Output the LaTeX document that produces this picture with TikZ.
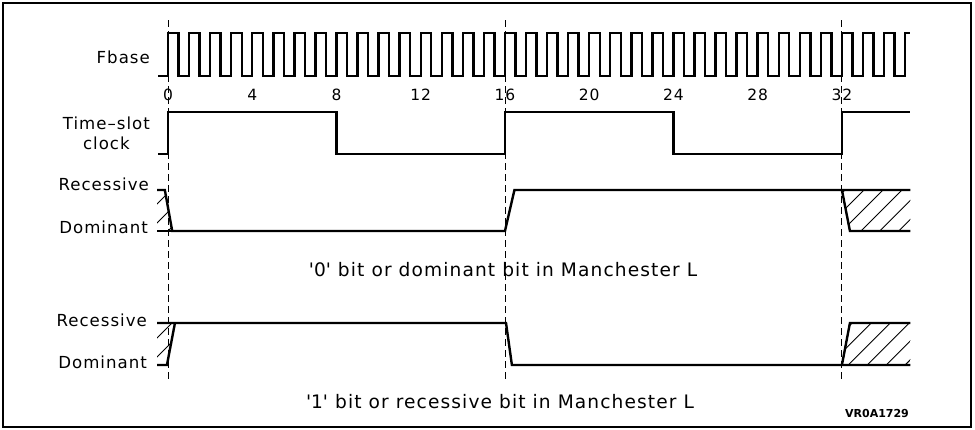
\documentclass[tikz,border=0pt]{standalone}
\usepackage{fontspec}
\setmainfont{DejaVu Sans}
\newfontfamily\widefont[LetterSpace=6]{DejaVu Sans}
\usetikzlibrary{positioning}

% signal levels (pixels from the top)
\newcommand{\fhi}{33}
\newcommand{\flo}{76}
\newcommand{\slothi}{112}
\newcommand{\slotlo}{154}
\newcommand{\recA}{190}
\newcommand{\domA}{231}
\newcommand{\recB}{323}
\newcommand{\domB}{365}

\tikzset{
  wave/.style={line width=2.4pt, line join=miter},
  hatchline/.style={line width=0.9pt},
  guide/.style={line width=0.9pt, dash pattern=on 7pt off 4pt},
  lvl/.style={font=\widefont\fontsize{16.6}{20}\selectfont, anchor=east, inner sep=0pt},
  tickno/.style={font=\widefont\fontsize{15.5}{18}\selectfont, inner sep=0pt},
  caption/.style={font=\widefont\fontsize{18.6}{20}\selectfont, inner sep=0pt}
}

\begin{document}
\begin{tikzpicture}[x=1pt, y=-1pt]
\useasboundingbox (0,0) rectangle (975,429);
\draw[line width=1.2pt] (3,3) rectangle (971,427);

% level names
\node[lvl] (fbase) at (150,57) {Fbase};
\node[lvl, align=center] (tsclock) at (150,133) {Time–slot\\clock};
\node[lvl] (recA) at (149,184) {Recessive};
\node[lvl] (domA) at (148,227) {Dominant};
\node[lvl] (recB) at (147,320) {Recessive};
\node[lvl] (domB) at (147,362) {Dominant};

\node[caption] (capA) at (503,270) {\textquotesingle0\textquotesingle\ bit or dominant bit in Manchester L};
\node[caption] (capB) at (500,402) {\textquotesingle1\textquotesingle\ bit or recessive bit in Manchester L};
\node[font=\bfseries\fontsize{11}{13}\selectfont, inner sep=0pt] (figid) at (877,413) {VR0A1729};

\begin{scope}[xshift=168pt, x=21.06pt]
% time marks
\foreach \t in {0,4,...,32}
  \node[tickno] (tick\t) at (\t,95) {\t};
\foreach \t in {0,16,32}
  \draw[guide] (\t,20) -- (\t,381);

% Fbase
\draw[wave] (-0.47,\flo)
  \foreach \i in {0,...,34}{ -- (\i,\flo) -- (\i,\fhi) -- (\i+0.5,\fhi) -- (\i+0.5,\flo) }
  -- (35,\flo) -- (35,\fhi) -- (35.25,\fhi);

% time-slot clock
\draw[wave] (-0.47,\slotlo) -- (0,\slotlo) -- (0,\slothi) -- (8,\slothi) -- (8,\slotlo) -- (16,\slotlo)
  -- (16,\slothi) -- (24,\slothi) -- (24,\slotlo) -- (32,\slotlo) -- (32,\slothi) -- (35.25,\slothi);

% '0' bit
\begin{scope}
  \clip (-0.52,\recA) -- (-0.15,\recA) -- (0.2,\domA) -- (-0.52,\domA) -- cycle;
  \foreach \k in {-3,...,1}
    \draw[hatchline] (\k*0.9,\domA) -- ++(45pt,45pt);
\end{scope}
\begin{scope}
  \clip (32,\recA) -- (35.25,\recA) -- (35.25,\domA) -- (32.38,\domA) -- cycle;
  \foreach \k in {-2,...,4}
    \draw[hatchline] (32+\k*0.9,\domA) -- ++(45pt,45pt);
\end{scope}
\draw[wave] (-0.52,\recA) -- (-0.15,\recA) -- (0.2,\domA) -- (16,\domA) -- (16.45,\recA) -- (35.25,\recA);
\draw[wave] (-0.52,\domA) -- (0.2,\domA);
\draw[wave] (32,\recA) -- (32.38,\domA) -- (35.25,\domA);

% '1' bit
\begin{scope}
  \clip (-0.52,\recB) -- (0.33,\recB) -- (-0.05,\domB) -- (-0.52,\domB) -- cycle;
  \foreach \k in {-3,...,1}
    \draw[hatchline] (\k*0.9,\domB) -- ++(45pt,45pt);
\end{scope}
\begin{scope}
  \clip (32.38,\recB) -- (35.25,\recB) -- (35.25,\domB) -- (32,\domB) -- cycle;
  \foreach \k in {-2,...,4}
    \draw[hatchline] (32.3+\k*0.9,\domB) -- ++(45pt,45pt);
\end{scope}
\draw[wave] (-0.52,\recB) -- (16.05,\recB) -- (16.33,\domB) -- (35.25,\domB);
\draw[wave] (-0.52,\domB) -- (-0.05,\domB) -- (0.33,\recB);
\draw[wave] (32,\domB) -- (32.38,\recB) -- (35.25,\recB);
\end{scope}
\end{tikzpicture}
\end{document}
